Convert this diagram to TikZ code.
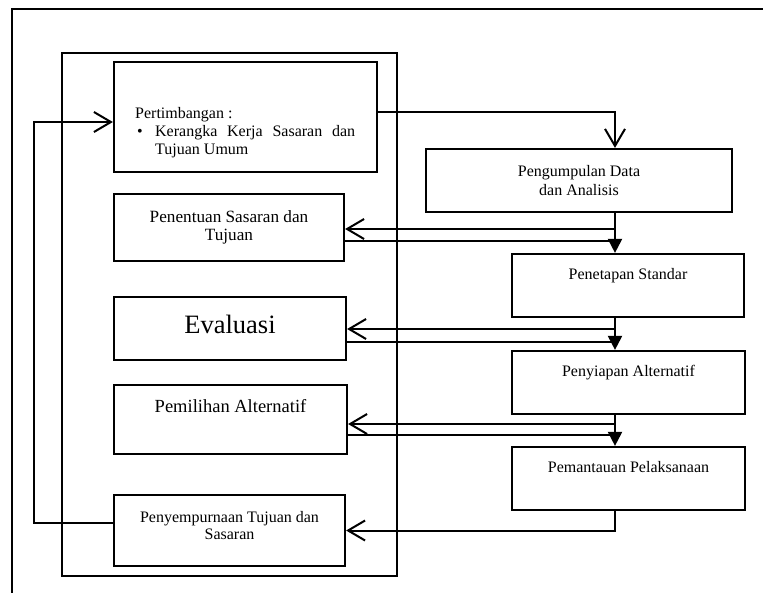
\documentclass[tikz,border=0pt]{standalone}
\usepackage{fontspec}
\setmainfont{Liberation Serif}
\usetikzlibrary{arrows.meta}

\tikzset{%
  % Specifications for style of nodes:
         base/.style = {rectangle, draw = black, line width=2.2pt, align=center, inner sep=0pt, font=\fontsize{16}{18.4}\selectfont},
    openarrow/.style = {-{Straight Barb[length=17pt,width=20pt]}, line width=2pt},
    fillarrow/.style = {-{Triangle[length=14pt,width=14pt]}, line width=2pt},
}

\begin{document}
\begin{tikzpicture}[x=1pt, y=-1pt]
    \useasboundingbox (0,0) rectangle (763,592);

    % Frames
    \draw[line width=2pt] (12,600) -- (12,9) -- (770,9);
    \node (frame)        [draw, line width=2pt, minimum width=335, minimum height=523] at (229.5,314.5) {};

    % Draw nodes (left column)
    \node (pert)          [base, minimum width=263, minimum height=110] at (245.5,117) {};
    \node (pertText)      [anchor=base west, inner sep=0pt, font=\fontsize{16}{18.4}\selectfont] at (135,118)
        {\hyphenpenalty=10000\begin{tabular}[t]{@{}p{20pt}@{}p{200pt}@{}}
           \multicolumn{2}{@{}l}{Pertimbangan :}\\
           \hspace{2pt}\textbullet & Kerangka Kerja Sasaran dan Tujuan Umum
         \end{tabular}};
    \node (penentuan)     [base, minimum width=230, minimum height=67, font=\fontsize{17.2}{18.5}\selectfont] at (229,227.5) {Penentuan Sasaran dan\\ Tujuan};
    \node (evaluasi)      [base, minimum width=232, minimum height=63, text depth=9pt, font=\fontsize{26.5}{30}\selectfont] at (230,328.5) {Evaluasi};
    \node (pemilihan)     [base, minimum width=233, minimum height=69, font=\fontsize{18.5}{21}\selectfont] at (230.5,419.5) {Pemilihan Alternatif\\ \strut};
    \node (penyempurnaan) [base, minimum width=231, minimum height=71, text depth=10pt, font=\fontsize{16}{17}\selectfont] at (229.5,530.5) {Penyempurnaan Tujuan dan\\ Sasaran};

    % Draw nodes (right column)
    \node (pengumpulan)   [base, minimum width=306, minimum height=63] at (579,180.5) {Pengumpulan Data\\ dan Analisis};
    \node (penetapan)     [base, minimum width=232, minimum height=63] at (628,285.5) {Penetapan Standar\\ \strut};
    \node (penyiapan)     [base, minimum width=233, minimum height=63] at (628.5,382.5) {Penyiapan Alternatif\\ \strut};
    \node (pemantauan)    [base, minimum width=233, minimum height=63] at (628.5,478.5) {Pemantauan Pelaksanaan\\ \strut};

    \coordinate (spine) at (615,0);
    \coordinate (penentuanIn)  at ([yshift=-1.5pt]penentuan.east);
    \coordinate (penentuanOut) at ([yshift=-13.5pt]penentuan.east);
    \coordinate (evaluasiIn)   at ([yshift=-0.5pt]evaluasi.east);
    \coordinate (evaluasiOut)  at ([yshift=-13.5pt]evaluasi.east);
    \coordinate (pemilihanIn)  at ([yshift=-4.5pt]pemilihan.east);
    \coordinate (pemilihanOut) at ([yshift=-15.5pt]pemilihan.east);

    % Draw arrows
    \draw[openarrow]  ([yshift=5pt]pert.east) -| (pengumpulan.north -| spine);

    \draw[fillarrow]  (pengumpulan.south -| spine) -- (penetapan.north -| spine);
    \draw[openarrow]  (spine |- penentuanIn) -- (penentuanIn);
    \draw[line width=2pt] (penentuanOut) -- (spine |- penentuanOut);

    \draw[fillarrow]  (penetapan.south -| spine) -- (penyiapan.north -| spine);
    \draw[openarrow]  (spine |- evaluasiIn) -- (evaluasiIn);
    \draw[line width=2pt] (evaluasiOut) -- (spine |- evaluasiOut);

    \draw[fillarrow]  (penyiapan.south -| spine) -- (pemantauan.north -| spine);
    \draw[openarrow]  (spine |- pemilihanIn) -- (pemilihanIn);
    \draw[line width=2pt] (pemilihanOut) -- (spine |- pemilihanOut);

    \draw[openarrow]  (pemantauan.south -| spine) |- (penyempurnaan.east);

    \draw[openarrow]  ([yshift=7.5pt]penyempurnaan.west) -- ++(-79,0) |- ([yshift=-5pt]pert.west);
\end{tikzpicture}
\end{document}
